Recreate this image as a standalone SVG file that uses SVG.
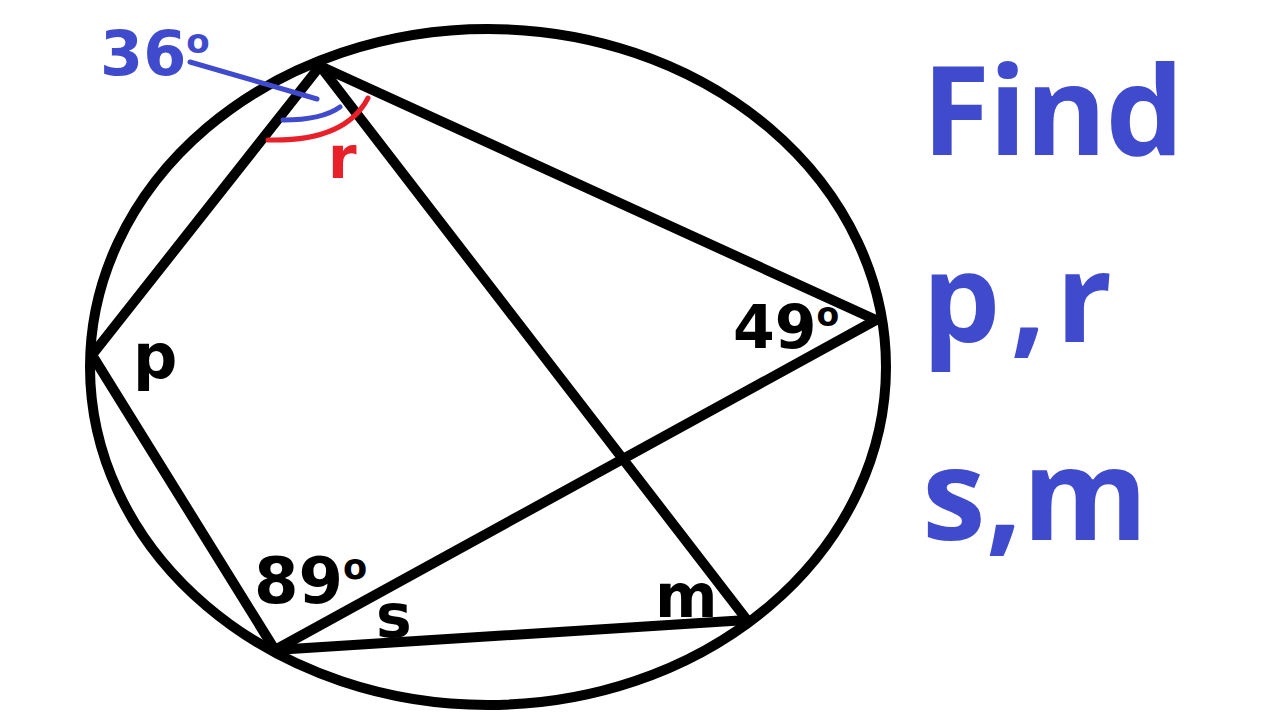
<svg xmlns="http://www.w3.org/2000/svg" width="1280" height="720" viewBox="0 0 1280 720">
<style>
.ln{stroke:#000;stroke-width:10;stroke-linecap:round;fill:none}
.lbl{font-family:"DejaVu Sans",sans-serif;font-weight:bold;fill:#000}
.blue{font-family:"DejaVu Sans",sans-serif;font-weight:bold;fill:#3f4bcc}
.big{font-family:"Open Sans",sans-serif;font-weight:bold;fill:#3f4bcc}
.deg{font-size:0.55em}
</style>
<rect width="1280" height="720" fill="#fff"/>
<g id="circle"><ellipse cx="488" cy="367" rx="398" ry="338" class="ln"/></g>
<g id="connectors">
<line x1="320" y1="66" x2="92" y2="355" class="ln"/>
<line x1="92" y1="355" x2="275" y2="650" class="ln"/>
<line x1="275" y1="650" x2="747" y2="620" class="ln"/>
<line x1="320" y1="66" x2="747" y2="620" class="ln"/>
<line x1="320" y1="66" x2="876" y2="320" class="ln"/>
<line x1="275" y1="650" x2="876" y2="320" class="ln"/>
</g>
<g id="angle-36">
<line x1="190" y1="62" x2="317" y2="99" stroke="#3f4bcc" stroke-width="5" stroke-linecap="round"/>
<path d="M283,120 Q322,120 340,107" stroke="#3f4bcc" stroke-width="5" fill="none" stroke-linecap="round"/>
<text x="100" y="75" class="blue" font-size="62">36<tspan class="deg" dy="-22">o</tspan></text>
</g>
<g id="angle-r">
<path d="M268,140 Q345,142 368,98" stroke="#e8202a" stroke-width="5" fill="none" stroke-linecap="round"/>
<text x="328" y="178" font-family="DejaVu Sans,sans-serif" font-weight="bold" font-size="58" fill="#e8202a">r</text>
</g>
<g id="label-p"><text x="133" y="378" class="lbl" font-size="62">p</text></g>
<g id="label-49"><text x="733" y="348" class="lbl" font-size="60">49<tspan class="deg" dy="-22">o</tspan></text></g>
<g id="label-89"><text x="254" y="603" class="lbl" font-size="64">89<tspan class="deg" dy="-24">o</tspan></text></g>
<g id="label-s"><text x="376" y="637" class="lbl" font-size="60">s</text></g>
<g id="label-m"><text x="655" y="617" class="lbl" font-size="60">m</text></g>
<g id="question">
<text x="922" y="155" class="big" font-size="124" textLength="262" lengthAdjust="spacing">Find</text>
<text x="922" y="342" class="big" font-size="124" textLength="190" lengthAdjust="spacing">p,r</text>
<text x="922" y="540" class="big" font-size="128" textLength="226" lengthAdjust="spacing">s,m</text>
</g>
</svg>
